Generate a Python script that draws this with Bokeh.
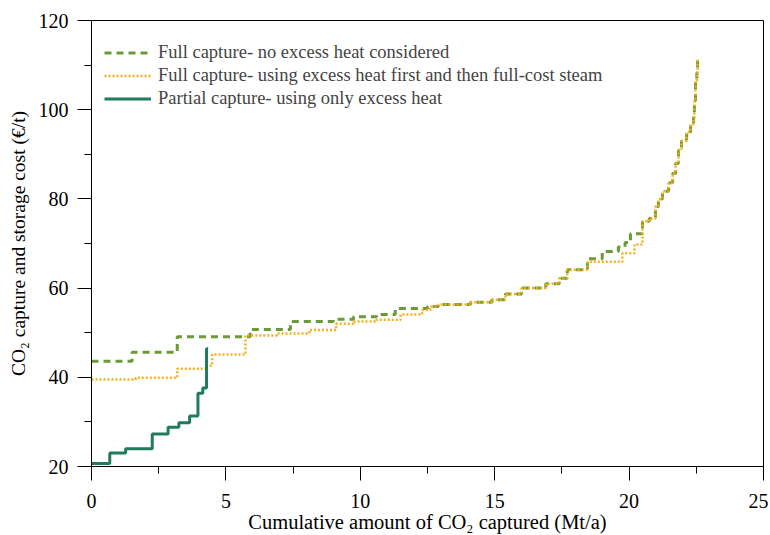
from bokeh.plotting import figure
from bokeh.models import SingleIntervalTicker, Legend, LegendItem, Range1d
from bokeh.embed import file_html
from bokeh.resources import INLINE

# Partial capture - using only excess heat (step breakpoints: cumulative Mt/a, cost EUR/t)
partial_x = [0, 0.68, 1.27, 2.26, 2.85, 3.25, 3.65, 3.96, 4.14, 4.28, 4.34]
partial_y = [20.7, 23.0, 24.0, 27.3, 28.8, 29.8, 31.3, 36.4, 37.6, 46.4, 46.4]

# Full capture - no excess heat considered
noexcess_x = [0, 1.51, 3.19, 5.9, 7.4, 9.0, 9.75, 10.6, 11.3, 12.5, 12.9, 14.1, 14.9,
              15.4, 16.0, 16.9, 17.4, 17.7, 18.45, 19.0, 19.6, 19.85, 20.05,
              20.5, 20.75, 20.98, 21.09, 21.24, 21.47, 21.62, 21.73, 21.84, 21.95,
              22.14, 22.29, 22.40, 22.43, 22.47, 22.52, 22.55]
noexcess_y = [43.6, 45.6, 49.1, 50.7, 52.5, 53.0, 53.6, 54.1, 55.4, 55.9, 56.3, 56.8, 57.4,
              58.7, 60.0, 61.0, 62.2, 64.1, 66.6, 68.2, 69.2, 70.2, 72.2,
              75.0, 75.6, 78.3, 80.0, 81.7, 83.6, 85.7, 88.0, 90.9, 93.0,
              95.0, 96.8, 98.3, 102.0, 106.5, 108.3, 111.2]

# Full capture - using excess heat first and then full-cost steam
excess_x = [0, 1.64, 3.19, 4.24, 4.49, 5.73, 6.9, 8.1, 9.1, 9.75, 10.6, 11.5, 12.3,
            12.6, 12.9, 14.1, 14.9,
            15.4, 16.0, 16.9, 17.4, 17.7, 18.45, 19.75, 20.2,
            20.5, 20.75, 20.98, 21.09, 21.24, 21.47, 21.62, 21.73, 21.84, 21.95,
            22.14, 22.29, 22.40, 22.43, 22.47, 22.52, 22.55]
excess_y = [39.5, 39.9, 41.9, 42.6, 45.1, 49.4, 49.8, 50.6, 52.0, 52.5, 52.9, 54.1, 55.1,
            55.9, 56.3, 56.8, 57.4,
            58.7, 60.0, 61.0, 62.2, 64.1, 65.9, 67.8, 69.8,
            75.0, 75.6, 78.3, 80.0, 81.7, 83.6, 85.7, 88.0, 90.9, 93.0,
            95.0, 96.8, 98.3, 102.0, 106.5, 108.3, 111.2]

labels = ["Full capture- no excess heat considered",
          "Full capture- using excess heat first and then full-cost steam",
          "Partial capture- using only excess heat"]

FONT = "Liberation Serif"

p = figure(output_backend="svg", toolbar_location=None,
           frame_width=672, frame_height=446,
           min_border_left=91, min_border_top=20, min_border_right=5, min_border_bottom=60,
           x_range=Range1d(0, 25), y_range=Range1d(20, 120))

p.xgrid.visible = False
p.ygrid.visible = False
p.outline_line_color = "black"
p.outline_line_width = 1
p.background_fill_color = "white"
p.border_fill_color = "white"

r1 = p.step(noexcess_x, noexcess_y, mode="after", line_color="#6b9b37", line_width=3,
            line_dash="7 5")
r2 = p.step(excess_x, excess_y, mode="after", line_color="#f3b01c", line_width=2.5,
            line_dash="2 2")
r3 = p.step(partial_x, partial_y, mode="after", line_color="#1f7a5e", line_width=3)

p.xaxis.ticker = SingleIntervalTicker(interval=5, num_minor_ticks=2)
p.yaxis.ticker = SingleIntervalTicker(interval=20, num_minor_ticks=2)

for ax in (p.xaxis[0], p.yaxis[0]):
    ax.major_tick_in = 0
    ax.minor_tick_in = 0
    ax.major_tick_out = 14
    ax.minor_tick_out = 7
    ax.axis_line_color = "black"
    ax.major_tick_line_color = "black"
    ax.minor_tick_line_color = "black"
    ax.major_label_text_font = FONT
    ax.major_label_text_color = "black"
    ax.axis_label_text_font = FONT
    ax.axis_label_text_font_style = "normal"
    ax.axis_label_text_color = "black"

p.xaxis.major_label_text_font_size = "20px"
p.yaxis.major_label_text_font_size = "20px"
p.xaxis.axis_label_text_font_size = "20.5px"
p.yaxis.axis_label_text_font_size = "19.5px"

p.xaxis.axis_label = "Cumulative amount of CO\u2082 captured (Mt/a)"
p.yaxis.axis_label = "CO\u2082 capture and storage cost (\u20ac/t)"
p.xaxis.major_label_standoff = 13
p.yaxis.major_label_standoff = 9
p.xaxis.axis_label_standoff = 0
p.yaxis.axis_label_standoff = 7

legend = Legend(items=[LegendItem(label=labels[0], renderers=[r1]),
                       LegendItem(label=labels[1], renderers=[r2]),
                       LegendItem(label=labels[2], renderers=[r3])],
                location=(13, 356), border_line_color=None, background_fill_alpha=0,
                label_text_font=FONT, label_text_font_size="18.5px",
                glyph_width=47, glyph_height=23, label_height=23, spacing=0,
                padding=0, margin=0, label_standoff=7)
p.add_layout(legend)

open("out.html", "w").write(file_html(p, INLINE))
